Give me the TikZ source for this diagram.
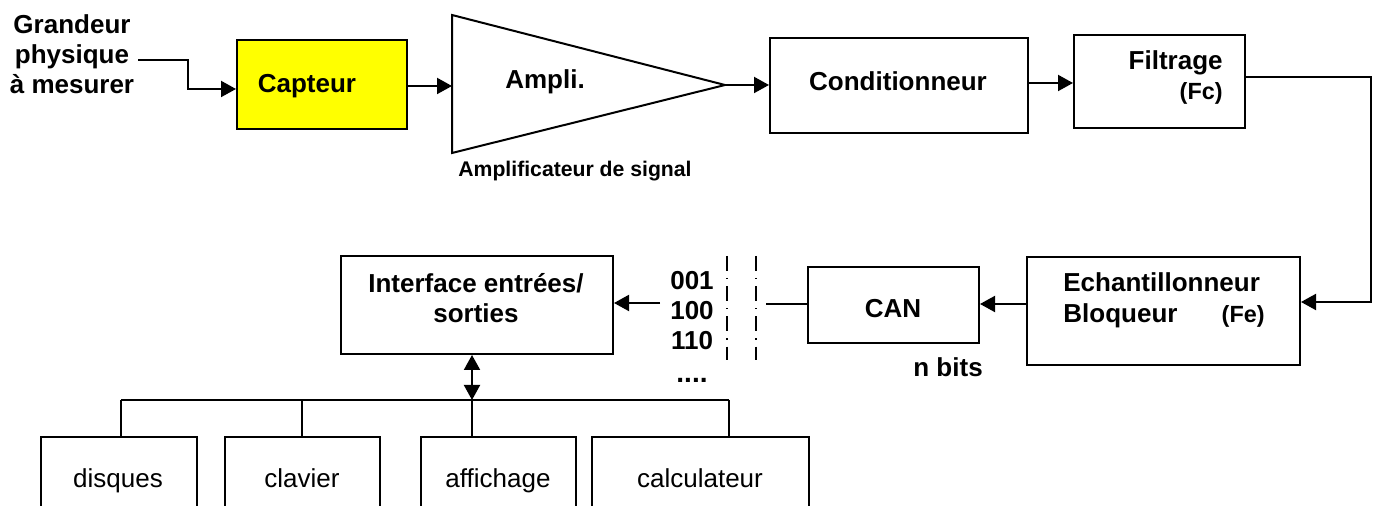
\documentclass[tikz,border=0pt]{standalone}
\usepackage{fontspec}
\setmainfont{Liberation Sans}
\usetikzlibrary{arrows.meta,fit}

\definecolor{sensoryellow}{RGB}{255,255,0}

\newcommand\lblfont{\fontsize{13}{15}\selectfont\bfseries}
\newcommand\smlfont{\fontsize{11.7}{15}\selectfont\bfseries}
\newcommand\tinyfont{\fontsize{10.6}{13}\selectfont\bfseries}
\newcommand\regfont{\fontsize{13}{15}\selectfont}

\tikzset{
  wire/.style={line width=1pt},
  arr/.style={wire, -{Triangle[length=7.5pt,width=8pt]}},
  darr/.style={wire, {Triangle[length=7.5pt,width=8pt]}-{Triangle[length=7.5pt,width=8pt]}},
  blk/.style={draw, line width=1pt, inner sep=0pt, fill=white},
  txt/.style={inner sep=0pt, anchor=base},
  sep/.style={line width=0.6pt, dash pattern=on 7.5pt off 3.5pt on 0.6pt off 3.5pt},
}

\begin{document}
\begin{tikzpicture}[x=0.5pt,y=-0.5pt]
\useasboundingbox (0,0) rectangle (1378,506);
\clip (0,0) rectangle (1378,506);

% --- acquisition chain, top row ---
% multi-line labels: the base anchor sits on the last line
\node[txt, align=center, font=\lblfont] (gp) at (72,94) {Grandeur\\physique\\à mesurer};
\coordinate (gin) at (138,60);
\coordinate (gbend) at (188,89);

\node[blk, fill=sensoryellow, fit={(237,40) (407,129)}] (capt) {};
\node[txt, font=\lblfont] at (307,93) {Capteur};

\draw[wire] (452,15) -- (725,85) -- (452,153) -- cycle;
\coordinate (ampin) at (452,86);
\coordinate (ampout) at (725,85);
\node[txt, font=\lblfont] (ampl) at (545,89) {Ampli.};
\node[txt, font=\tinyfont] (ampn) at (575,177) {Amplificateur de signal};

\node[blk, fit={(770,38) (1028,133)}] (cond) {};
\node[txt, font=\lblfont] at (898,91) {Conditionneur};

\node[blk, fit={(1074,35) (1245,128)}] (filt) {};
\node[txt, font=\lblfont, anchor=base east] at (1223,70) {Filtrage};
\node[txt, font=\smlfont, anchor=base east] at (1223,100) {(Fc)};

\draw[arr] (gin) -| (gbend) -- (gbend -| capt.west);
\draw[arr] (capt.east |- ampin) -- (ampin);
\draw[arr] (ampout) -- (ampout -| cond.west);
\draw[arr] (cond.east |- 0,83) -- (filt.west |- 0,83);

% --- return path to the sampler ---
\coordinate (rc1) at (1371,77);
\coordinate (rc2) at (1371,302);

\node[blk, fit={(1027,257) (1300,365)}] (ech) {};
\node[txt, font=\lblfont, anchor=base west] at (1063,292) {Echantillonneur};
\node[txt, font=\lblfont, anchor=base west] at (1063,323) {Bloqueur};
\node[txt, font=\smlfont, anchor=base east] at (1265,323) {(Fe)};

\draw[arr] (filt.east |- rc1) -- (rc1) -- (rc2) -- (rc2 -| ech.east);

% --- conversion ---
\coordinate (lvl) at (0,304);
\node[blk, fit={(808,267) (979,343)}] (can) {};
\node[txt, font=\lblfont] at (893,318) {CAN};
\node[txt, font=\lblfont, anchor=base west] at (913,377) {n bits};

\draw[arr] (ech.west |- lvl) -- (can.east |- lvl);
\coordinate (gapR) at (766,304);
\draw[wire] (can.west |- lvl) -- (gapR);

\draw[sep] (727,256) -- (727,360);
\draw[sep] (756,256) -- (756,360);

\node[txt, font=\lblfont] at (692,290) {001};
\node[txt, font=\lblfont] at (692,320) {100};
\node[txt, font=\lblfont] at (692,350) {110};
\node[txt, font=\fontsize{14}{15}\selectfont\bfseries] at (692,383) {....};

% --- interface and peripherals ---
\node[blk, fit={(341,256) (613,354)}] (iface) {};
\node[txt, font=\lblfont, align=center] at (476,323) {Interface entrées/\\sorties};

\coordinate (gapL) at (660,303);
\draw[arr] (gapL) -- (gapL -| iface.east);

\node[blk, fit={(41,437) (197,540)}] (disq) {};
\node[blk, fit={(225,437) (380,540)}] (clav) {};
\node[blk, fit={(421,437) (576,540)}] (affi) {};
\node[blk, fit={(592,437) (809,540)}] (calc) {};
\node[txt, font=\regfont] at (118,488) {disques};
\node[txt, font=\regfont] at (302,488) {clavier};
\node[txt, font=\regfont] at (498,488) {affichage};
\node[txt, font=\regfont] at (700,488) {calculateur};

\coordinate (bus) at (472,400);
\coordinate (busL) at (121,400);
\coordinate (busC) at (302,400);
\coordinate (busR) at (729,400);
\draw[wire] (busL) -- (busR);
\draw[wire] (busL) -- (busL |- disq.north);
\draw[wire] (busC) -- (busC |- clav.north);
\draw[wire] (bus) -- (bus |- affi.north);
\draw[wire] (busR) -- (busR |- calc.north);
\draw[darr] (bus) -- (bus |- iface.south);
\end{tikzpicture}
\end{document}
